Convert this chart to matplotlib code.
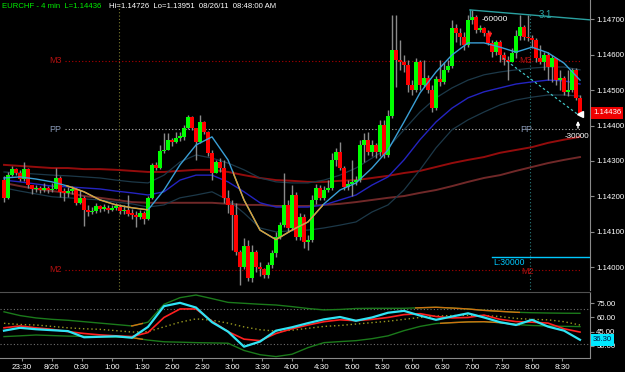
import numpy as np
import matplotlib.pyplot as plt
from matplotlib.patches import Rectangle
from matplotlib.transforms import blended_transform_factory

plt.rcParams['font.family'] = ['Liberation Sans', 'DejaVu Sans']

# EURCHF 4 min bars, 23:12 -> 08:48 (minutes from midnight 8/26)
first_open = 1.14246
close = [1.14196, 1.14260, 1.14277, 1.14266, 1.14249, 1.14277, 1.14232, 1.14221, 1.14224, 1.14218,
         1.14224, 1.14218, 1.14221, 1.14252, 1.14213, 1.14210, 1.14215, 1.14221, 1.14182, 1.14196,
         1.14162, 1.14156, 1.14159, 1.14173, 1.14165, 1.14168, 1.14162, 1.14168, 1.14170, 1.14159,
         1.14162, 1.14151, 1.14148, 1.14142, 1.14153, 1.14136, 1.14196, 1.14289, 1.14280, 1.14328,
         1.14331, 1.14360, 1.14354, 1.14365, 1.14368, 1.14393, 1.14424, 1.14393, 1.14354, 1.14410,
         1.14382, 1.14323, 1.14266, 1.14297, 1.14280, 1.14196, 1.14176, 1.14148, 1.14043, 1.14001,
         1.14060, 1.13970, 1.14043, 1.14001, 1.13994, 1.13979, 1.14007, 1.14041, 1.14086, 1.14119,
         1.14176, 1.14111, 1.14204, 1.14086, 1.14142, 1.14072, 1.14078, 1.14190, 1.14224, 1.14196,
         1.14218, 1.14224, 1.14303, 1.14326, 1.14280, 1.14227, 1.14235, 1.14241, 1.14246, 1.14345,
         1.14360, 1.14326, 1.14345, 1.14326, 1.14402, 1.14317, 1.14427, 1.14613, 1.14585, 1.14579,
         1.14571, 1.14514, 1.14500, 1.14579, 1.14514, 1.14534, 1.14500, 1.14449, 1.14531, 1.14523,
         1.14557, 1.14568, 1.14675, 1.14661, 1.14650, 1.14627, 1.14698, 1.14706, 1.14669, 1.14675,
         1.14661, 1.14633, 1.14607, 1.14636, 1.14599, 1.14585, 1.14579, 1.14605, 1.14652, 1.14678,
         1.14650, 1.14647, 1.14641, 1.14590, 1.14579, 1.14599, 1.14565, 1.14590, 1.14528, 1.14534,
         1.14495, 1.14500, 1.14557, 1.14478, 1.14436]
high = [1.14258, 1.14269, 1.14286, 1.14280, 1.14275, 1.14297, 1.14280, 1.14229, 1.14232, 1.14229,
        1.14238, 1.14229, 1.14238, 1.14280, 1.14258, 1.14224, 1.14227, 1.14229, 1.14224, 1.14218,
        1.14201, 1.14176, 1.14170, 1.14182, 1.14176, 1.14179, 1.14176, 1.14176, 1.14182, 1.14179,
        1.14176, 1.14204, 1.14165, 1.14159, 1.14162, 1.14159, 1.14201, 1.14294, 1.14297, 1.14345,
        1.14379, 1.14379, 1.14365, 1.14382, 1.14382, 1.14402, 1.14430, 1.14427, 1.14393, 1.14430,
        1.14413, 1.14385, 1.14331, 1.14303, 1.14308, 1.14303, 1.14218, 1.14190, 1.14182, 1.14049,
        1.14083, 1.14078, 1.14063, 1.14049, 1.14015, 1.13998, 1.14015, 1.14049, 1.14100, 1.14128,
        1.14266, 1.14190, 1.14232, 1.14213, 1.14153, 1.14151, 1.14091, 1.14204, 1.14235, 1.14232,
        1.14229, 1.14246, 1.14323, 1.14337, 1.14354, 1.14286, 1.14246, 1.14303, 1.14258, 1.14360,
        1.14379, 1.14382, 1.14360, 1.14351, 1.14416, 1.14416, 1.14444, 1.14712, 1.14712, 1.14641,
        1.14599, 1.14585, 1.14528, 1.14590, 1.14585, 1.14585, 1.14543, 1.14514, 1.14540, 1.14585,
        1.14579, 1.14585, 1.14698, 1.14686, 1.14675, 1.14664, 1.14712, 1.14726, 1.14712, 1.14684,
        1.14678, 1.14669, 1.14641, 1.14641, 1.14641, 1.14607, 1.14596, 1.14619, 1.14669, 1.14712,
        1.14684, 1.14712, 1.14655, 1.14647, 1.14627, 1.14607, 1.14607, 1.14599, 1.14590, 1.14557,
        1.14540, 1.14557, 1.14562, 1.14562, 1.14486]
low = [1.14184, 1.14193, 1.14258, 1.14260, 1.14244, 1.14244, 1.14224, 1.14207, 1.14213, 1.14210,
       1.14213, 1.14210, 1.14213, 1.14221, 1.14199, 1.14187, 1.14199, 1.14207, 1.14176, 1.14179,
       1.14117, 1.14145, 1.14151, 1.14153, 1.14156, 1.14159, 1.14153, 1.14159, 1.14162, 1.14151,
       1.14151, 1.14145, 1.14136, 1.14114, 1.14136, 1.14122, 1.14134, 1.14193, 1.14275, 1.14277,
       1.14323, 1.14331, 1.14342, 1.14351, 1.14356, 1.14360, 1.14390, 1.14388, 1.14303, 1.14351,
       1.14376, 1.14314, 1.14246, 1.14269, 1.14269, 1.14182, 1.14153, 1.14049, 1.14035, 1.13951,
       1.13994, 1.13962, 1.13959, 1.13987, 1.13976, 1.13970, 1.13970, 1.13998, 1.14029, 1.14080,
       1.14114, 1.14100, 1.14105, 1.14078, 1.14078, 1.14055, 1.14049, 1.14072, 1.14179, 1.14190,
       1.14190, 1.14213, 1.14218, 1.14286, 1.14275, 1.14218, 1.14218, 1.14201, 1.14232, 1.14241,
       1.14297, 1.14317, 1.14314, 1.14308, 1.14314, 1.14308, 1.14311, 1.14421, 1.14509, 1.14557,
       1.14551, 1.14495, 1.14486, 1.14495, 1.14500, 1.14509, 1.14492, 1.14438, 1.14444, 1.14511,
       1.14517, 1.14551, 1.14562, 1.14636, 1.14627, 1.14613, 1.14621, 1.14686, 1.14661, 1.14664,
       1.14652, 1.14627, 1.14593, 1.14599, 1.14579, 1.14571, 1.14528, 1.14579, 1.14590, 1.14641,
       1.14641, 1.14638, 1.14619, 1.14579, 1.14574, 1.14557, 1.14528, 1.14523, 1.14514, 1.14500,
       1.14486, 1.14483, 1.14495, 1.14472, 1.14427]

# moving averages, read every 4th bar
ma_fast = [1.14252, 1.14255, 1.14249, 1.14241, 1.14229, 1.14213, 1.14190, 1.14176, 1.14168, 1.14162,
           1.14218, 1.14289, 1.14345, 1.14368, 1.14303, 1.14190, 1.14105, 1.14078, 1.14105, 1.14128,
           1.14179, 1.14218, 1.14238, 1.14280, 1.14331, 1.14410, 1.14492, 1.14551, 1.14599, 1.14633,
           1.14633, 1.14621, 1.14607, 1.14621, 1.14605, 1.14576, 1.14528]
ma_mid = [1.14246, 1.14241, 1.14235, 1.14229, 1.14227, 1.14224, 1.14221, 1.14215, 1.14210, 1.14204,
          1.14213, 1.14246, 1.14260, 1.14260, 1.14241, 1.14213, 1.14182, 1.14170, 1.14170, 1.14170,
          1.14176, 1.14190, 1.14204, 1.14232, 1.14255, 1.14303, 1.14360, 1.14410, 1.14449, 1.14478,
          1.14495, 1.14506, 1.14517, 1.14523, 1.14528, 1.14526, 1.14517]
env_up = [1.14269, 1.14266, 1.14263, 1.14260, 1.14258, 1.14255, 1.14252, 1.14246, 1.14241, 1.14238,
          1.14260, 1.14297, 1.14317, 1.14308, 1.14294, 1.14275, 1.14252, 1.14241, 1.14238, 1.14238,
          1.14246, 1.14260, 1.14280, 1.14308, 1.14337, 1.14388, 1.14438, 1.14478, 1.14506, 1.14528,
          1.14543, 1.14551, 1.14557, 1.14562, 1.14565, 1.14565, 1.14557]
env_dn = [1.14224, 1.14215, 1.14207, 1.14199, 1.14196, 1.14193, 1.14190, 1.14184, 1.14179, 1.14170,
          1.14176, 1.14196, 1.14204, 1.14213, 1.14190, 1.14153, 1.14111, 1.14100, 1.14103, 1.14105,
          1.14111, 1.14119, 1.14128, 1.14156, 1.14176, 1.14218, 1.14275, 1.14337, 1.14388, 1.14416,
          1.14438, 1.14458, 1.14472, 1.14480, 1.14486, 1.14486, 1.14483]
ma_slow1 = [1.14289, 1.14286, 1.14283, 1.14280, 1.14280, 1.14277, 1.14277, 1.14275, 1.14272, 1.14269,
            1.14269, 1.14272, 1.14275, 1.14275, 1.14269, 1.14260, 1.14252, 1.14246, 1.14244, 1.14241,
            1.14241, 1.14244, 1.14246, 1.14252, 1.14258, 1.14266, 1.14272, 1.14283, 1.14294, 1.14303,
            1.14311, 1.14323, 1.14331, 1.14339, 1.14351, 1.14360, 1.14368]
ma_slow2 = [1.14238, 1.14229, 1.14221, 1.14215, 1.14210, 1.14201, 1.14196, 1.14190, 1.14184, 1.14182,
            1.14182, 1.14182, 1.14182, 1.14182, 1.14179, 1.14176, 1.14176, 1.14173, 1.14173, 1.14173,
            1.14176, 1.14179, 1.14184, 1.14190, 1.14196, 1.14201, 1.14210, 1.14218, 1.14229, 1.14241,
            1.14252, 1.14260, 1.14272, 1.14283, 1.14294, 1.14303, 1.14311]

# lower panel oscillator, read every 4th bar
osc = [46, 49, 47.5, 46.5, 45.5, 39, 39.5, 40, 38.5, 50,
       72, 75.5, 70.5, 55, 45, 29, 34.4, 46, 49.6, 54,
       58, 60.5, 56.5, 60, 65, 67, 62, 57.5, 61, 64.4,
       60, 55, 52, 57.5, 50.3, 46, 36.3]
osc_sig = [49, 51, 49, 47.4, 45, 43, 41.5, 40.5, 39.7, 44,
           60, 69, 69, 56, 45, 37, 35.4, 43, 48, 52,
           55.5, 57.5, 56.6, 58, 60, 63, 64, 61, 59.5, 60,
           62.5, 58, 55.6, 55, 54, 48, 44.5]
band_up = [66, 62, 59.5, 58, 57, 55.5, 54, 52.5, 51, 55,
           74, 81, 83.8, 80, 76, 75, 74, 73.2, 71.5, 69.5,
           68, 68.5, 69.5, 69.7, 69.7, 69.7, 70.3, 70.8, 70, 69,
           67.5, 66.5, 65.5, 65, 64.7, 64.5, 64.4]
band_mid = [53.8, 52.5, 52, 50.5, 49, 48, 47.4, 46, 44.5, 45,
            50, 55, 58.5, 57, 54, 50, 47, 45.5, 46.5, 48.5,
            50.5, 51.5, 53, 54.5, 56, 58, 60, 61.5, 62, 62.3,
            62, 61, 59, 58, 57.5, 55.5, 52]
band_dn = [39.7, 40.5, 41.4, 40.8, 40.2, 40, 39.7, 39.2, 38.6, 36,
           34.2, 33.8, 33.3, 33, 32.7, 25, 20.5, 18.5, 21, 28,
           33.3, 34.4, 35.4, 37.5, 40.5, 46, 50.5, 53.5, 54.5, 55.3,
           55.5, 54.5, 52.5, 51.5, 51, 50.6, 50.3]

time_ticks = list(range(-30, 511, 30))
time_labels = ['23:30', '8/26', '0:30', '1:00', '1:30', '2:00', '2:30', '3:00', '3:30', '4:00',
               '4:30', '5:00', '5:30', '6:00', '6:30', '7:00', '7:30', '8:00', '8:30']
price_ticks = [1.140, 1.141, 1.142, 1.143, 1.144, 1.145, 1.146, 1.147]
osc_ticks = [30, 45, 60, 75]
pivot_m3, pivot_pp, pivot_m2 = 1.14583, 1.14389, 1.13993
last_price = 1.14436
last_osc = 36.30

# ---------------------------------------------------------------
W, H = 625, 372
fig = plt.figure(figsize=(W / 100, H / 100), dpi=100, facecolor='black')
ax = fig.add_axes([0, 1 - 290 / H, 590 / W, 290 / H])
ax2 = fig.add_axes([0, 1 - 358 / H, 590 / W, 66 / H])
for a in (ax, ax2):
    a.set_facecolor('black')
    for s in a.spines.values():
        s.set_visible(False)
    a.spines['right'].set_visible(True)
    a.spines['right'].set_color('#8a8a8a')
ax2.spines['bottom'].set_visible(True)
ax2.spines['bottom'].set_color('#8a8a8a')
ax2.spines['top'].set_visible(True)
ax2.spines['top'].set_color('#505050')

ymin, ymax = 1.13936, 1.14754
ax.set_xlim(-52, 538)
ax.set_ylim(ymin, ymax)
ax2.set_xlim(-52, 538)
ax2.set_ylim(17, 87)

t = -48 + 4 * np.arange(len(close))
ts = t[::4]

# candles
c = np.array(close)
o = np.r_[first_open, c[:-1]]
hi = np.maximum(high, np.maximum(o, c))
lo = np.minimum(low, np.minimum(o, c))
up = c >= o
ax.vlines(t, lo, hi, color='#8a8a8a', lw=1.0, zorder=3)
body = np.maximum(np.abs(c - o), 0.00004)
ax.bar(t, body, bottom=np.minimum(o, c), width=3.1,
       color=np.where(up, '#00ff00', '#ff0000'), linewidth=0, zorder=4)

# averages
ax.plot(ts, ma_slow1, color='#940c0c', lw=1.4, zorder=2)
ax.plot(ts, ma_slow2, color='#702828', lw=1.4, zorder=2)
ax.plot(ts, env_up, color='#1c3848', lw=0.9, zorder=2)
ax.plot(ts, env_dn, color='#1c3848', lw=0.9, zorder=2)
ax.plot(ts, ma_mid, color='#2424c0', lw=1.0, zorder=2)
ax.plot(ts, ma_fast, color='#3a9fd6', lw=1.0, zorder=5)
for x0, x1 in [(14, 96), (181, 271)]:
    ln, = ax.plot(ts, ma_fast, color='#e0a030', lw=1.0, zorder=6)
    ln.set_clip_path(Rectangle((x0, 1.13), x1 - x0, 0.03, transform=ax.transData))

# pivot lines
ax.plot([13, 528], [pivot_m3] * 2, ls=(0, (1, 2)), color='#b00000', lw=0.8, zorder=1)
ax.plot([13, 528], [pivot_pp] * 2, ls=(0, (1, 2)), color='#b8b8b8', lw=0.8, zorder=1)
ax.plot([13, 528], [pivot_m2] * 2, ls=(0, (1, 2)), color='#b00000', lw=0.8, zorder=1)
for x in (3, 474):
    ax.text(x, pivot_m3, 'M3', color='#b01010', fontsize=6.5, ha='center', va='center', zorder=7)
    ax.text(x, pivot_pp, 'PP', color='#8a9ab8', fontsize=6.5, ha='center', va='center', zorder=7)
ax.text(3, pivot_m2, 'M2', color='#b01010', fontsize=6.5, ha='center', va='center', zorder=7)
ax.text(476, pivot_m2 - 0.00004, 'M2', color='#b01010', fontsize=6.5, ha='center', va='center', zorder=7)

# session lines
ax.plot([67, 67], [1.14740, ymin], ls=(0, (1, 2)), color='#7a7a30', lw=0.8, zorder=1)
ax.plot([478, 478], [1.14712, ymin], ls=(0, (1, 2)), color='#2a8080', lw=0.8, zorder=1)

# order / trend annotations
ax.plot([418, 538], [1.14726, 1.14698], color='#2aa0a0', lw=1.0, zorder=6)
ax.plot([418, 418], [1.14726, 1.14706], color='#2aa0a0', lw=1.0, zorder=6)
ax.text(493, 1.14712, '3.1', color='#2aa0a0', fontsize=7, ha='center', va='center', zorder=7)
ax.text(430, 1.14700, '-60000', color='white', fontsize=6, ha='left', va='center', zorder=7)
ax.annotate('', xy=(438, 1.14640), xytext=(438, 1.14672),
            arrowprops=dict(arrowstyle='-|>', color='#ff2020', lw=1, mutation_scale=5), zorder=7)
ax.plot([451, 525], [1.14590, 1.14433], ls=(0, (2, 2)), color='#40c0c0', lw=0.9, zorder=6)
ax.plot([528], [1.14432], marker='<', color='white', ms=4, zorder=7)
ax.annotate('', xy=(526, 1.14421), xytext=(526, 1.14385),
            arrowprops=dict(arrowstyle='-|>', color='white', lw=1, mutation_scale=5), zorder=7)
ax.text(537, 1.14368, '-30000', color='white', fontsize=5.8, ha='right', va='center', zorder=7)
ax.plot([440, 538], [1.14029, 1.14029], color='#00c8ff', lw=1.0, zorder=6)
ax.text(441, 1.14014, 'L:30000', color='#00c8ff', fontsize=6.2, ha='left', va='center', zorder=7)

# header
fig.text(2 / W, 1 - 6 / H, 'EURCHF - 4 min  L=1.14436', color='#00ee00', fontsize=5.6, va='center')
fig.text(109 / W, 1 - 6 / H, 'Hi=1.14726  Lo=1.13951  08/26/11  08:48:00 AM',
         color='white', fontsize=5.6, va='center')

# price axis
ax.yaxis.tick_right()
ax.set_yticks(price_ticks)
ax.set_yticklabels(['%.5f' % p for p in price_ticks])
ax.tick_params(axis='y', colors='white', labelsize=5.6, length=3, pad=1.5, width=0.8)
ax.tick_params(axis='y', color='#8a8a8a')
ax.set_xticks([])
tr = blended_transform_factory(ax.transAxes, ax.transData)
ax.text(1.005, last_price, '%.5f' % last_price, transform=tr, color='white', fontsize=5.6,
        ha='left', va='center', zorder=8,
        bbox=dict(boxstyle='square,pad=0.3', fc='#ee0000', ec='none'))

# oscillator panel
ax2.axhline(69, ls=(0, (1, 2)), color='#707070', lw=0.8)
ax2.axhline(32, ls=(0, (1, 2)), color='#707070', lw=0.8)
ax2.plot(ts, band_up, color='#1b7a1b', lw=1.0)
ax2.plot(ts, band_dn, color='#1b7a1b', lw=1.0)
for band, spans in [(band_up, [(79, 91), (363, 468)]), (band_dn, [(79, 91), (388, 468)])]:
    for x0, x1 in spans:
        ln, = ax2.plot(ts, band, color='#d07010', lw=1.0)
        ln.set_clip_path(Rectangle((x0, 0), x1 - x0, 100, transform=ax2.transData))
ax2.plot(ts, band_mid, ls=(0, (1, 2)), color='#9a9a20', lw=1.0)
ax2.plot(ts, osc_sig, color='#ff2020', lw=1.2)
ax2.plot(ts, osc, color='#30e4f4', lw=1.6)

ax2.yaxis.tick_right()
ax2.set_yticks(osc_ticks)
ax2.set_yticklabels(['%.2f' % v for v in osc_ticks])
ax2.tick_params(axis='y', colors='white', labelsize=5.6, length=3, pad=1.5, width=0.8)
ax2.tick_params(axis='y', color='#8a8a8a')
ax2.set_xticks(time_ticks)
ax2.set_xticklabels(time_labels)
ax2.tick_params(axis='x', colors='white', labelsize=5.8, length=2, pad=2, width=0.8)
ax2.tick_params(axis='x', color='#8a8a8a')
tr2 = blended_transform_factory(ax2.transAxes, ax2.transData)
ax2.text(1.005, last_osc, '%.2f' % last_osc, transform=tr2, color='#001040', fontsize=5.6,
         ha='left', va='center', zorder=8,
         bbox=dict(boxstyle='square,pad=0.3', fc='#00e8ff', ec='none'))

fig.savefig('out.png', dpi=100, facecolor='black')
